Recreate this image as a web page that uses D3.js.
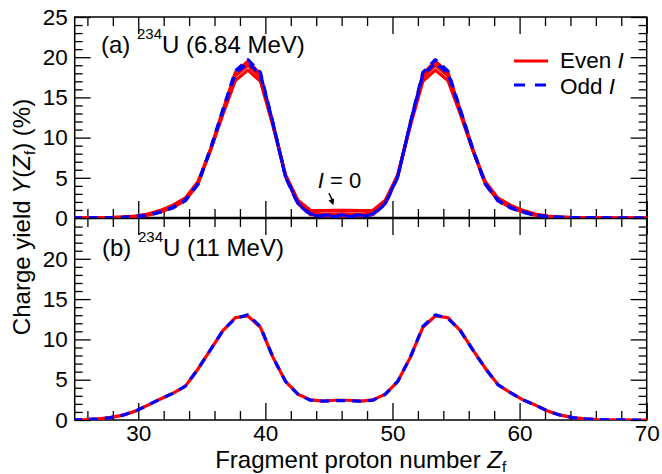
<!DOCTYPE html>
<html>
<head>
<meta charset="utf-8">
<script src="https://cdn.jsdelivr.net/npm/d3@7"></script>
<style>
  body { margin: 0; background: #fff; }
  svg text { font-family: "Liberation Sans", Arial, Helvetica, sans-serif; fill: #000; }
</style>
</head>
<body>
<svg id="chart" width="662" height="474"></svg>
<script>
// Fragment proton numbers of the calculated points
const zf = [24.86, 25.84, 26.82, 27.81, 28.79, 29.77, 30.76, 31.74, 32.72, 33.71, 34.69, 35.68,
  36.66, 37.64, 38.63, 39.61, 40.59, 41.58, 42.56, 43.54, 44.53, 45.51, 46.49, 47.47, 48.46,
  49.44, 50.42, 51.41, 52.39, 53.37, 54.36, 55.34, 56.32, 57.31, 58.29, 59.28, 60.26, 61.24,
  62.23, 63.21, 64.19, 65.18, 66.16, 67.14, 68.13, 69.11, 70.09];

// (a) 234U at 6.84 MeV, one curve per angular momentum I
const yieldA_I0 = [0, 0.01, 0.03, 0.06, 0.12, 0.24, 0.48, 0.95, 1.6, 2.5, 4.5, 8.4, 12.9, 17.1,
  18.4, 17.0, 11.5, 5.4, 2.2, 0.95, 0.92, 0.95, 0.95, 0.92, 0.95, 2.2, 5.4, 11.5, 17.0, 18.4,
  17.1, 12.9, 8.4, 4.5, 2.5, 1.6, 0.95, 0.48, 0.24, 0.12, 0.06, 0.03, 0.01, 0, 0, 0, 0];
const yieldA_I2 = [0, 0.01, 0.02, 0.05, 0.1, 0.2, 0.4, 0.82, 1.4, 2.3, 4.3, 8.5, 13.2, 17.7,
  19.0, 17.5, 11.7, 5.3, 1.95, 0.6, 0.5, 0.52, 0.52, 0.5, 0.6, 1.95, 5.3, 11.7, 17.5, 19.0,
  17.7, 13.2, 8.5, 4.3, 2.3, 1.4, 0.82, 0.4, 0.2, 0.1, 0.05, 0.02, 0.01, 0, 0, 0, 0];
const yieldA_I4 = [0, 0.01, 0.02, 0.04, 0.08, 0.15, 0.35, 0.75, 1.3, 2.2, 4.2, 8.5, 13.4, 18.1,
  19.5, 17.9, 11.8, 5.2, 1.8, 0.42, 0.25, 0.22, 0.22, 0.25, 0.42, 1.8, 5.2, 11.8, 17.9, 19.5,
  18.1, 13.4, 8.5, 4.2, 2.2, 1.3, 0.75, 0.35, 0.15, 0.08, 0.04, 0.02, 0.01, 0, 0, 0, 0];
const yieldA_I1 = [0, 0.01, 0.02, 0.04, 0.09, 0.17, 0.37, 0.78, 1.35, 2.25, 4.2, 8.5, 13.3, 18.0,
  19.3, 17.8, 11.8, 5.2, 1.85, 0.5, 0.35, 0.35, 0.35, 0.35, 0.5, 1.85, 5.2, 11.8, 17.8, 19.3,
  18.0, 13.3, 8.5, 4.2, 2.25, 1.35, 0.78, 0.37, 0.17, 0.09, 0.04, 0.02, 0.01, 0, 0, 0, 0];
const yieldA_I3 = [0, 0.01, 0.02, 0.04, 0.08, 0.15, 0.33, 0.72, 1.25, 2.15, 4.2, 8.6, 13.5, 18.3,
  19.7, 18.1, 11.9, 5.1, 1.75, 0.4, 0.22, 0.2, 0.2, 0.22, 0.4, 1.75, 5.1, 11.9, 18.1, 19.7,
  18.3, 13.5, 8.6, 4.2, 2.15, 1.25, 0.72, 0.33, 0.15, 0.08, 0.04, 0.02, 0.01, 0, 0, 0, 0];

// (b) 234U at 11 MeV
const yieldB_even = [0.02, 0.05, 0.15, 0.3, 0.6, 1.1, 1.85, 2.6, 3.3, 4.2, 6.3, 8.7, 11.1, 12.7,
  12.9, 11.5, 7.8, 4.8, 3.2, 2.5, 2.35, 2.45, 2.45, 2.35, 2.5, 3.2, 4.8, 7.8, 11.5, 12.9, 12.7,
  11.1, 8.7, 6.4, 4.4, 3.4, 2.5, 1.85, 1.1, 0.6, 0.3, 0.15, 0.05, 0.02, 0.01, 0, 0];
const yieldB_odd = [0.02, 0.05, 0.15, 0.3, 0.6, 1.1, 1.85, 2.6, 3.3, 4.2, 6.3, 8.7, 11.1, 12.6,
  13.05, 11.6, 7.8, 4.8, 3.2, 2.45, 2.35, 2.4, 2.4, 2.35, 2.45, 3.2, 4.8, 7.8, 11.6, 13.05, 12.6,
  11.1, 8.7, 6.4, 4.4, 3.4, 2.5, 1.85, 1.1, 0.6, 0.3, 0.15, 0.05, 0.02, 0.01, 0, 0];

// Tick values
const xMajor = [30, 40, 50, 60, 70];
const xMinor = [26, 28, 32, 34, 36, 38, 42, 44, 46, 48, 52, 54, 56, 58, 62, 64, 66, 68];
const yMajorA = [0, 5, 10, 15, 20, 25];
const yMajorB = [0, 5, 10, 15, 20];
const yMinor = [1, 2, 3, 4, 6, 7, 8, 9, 11, 12, 13, 14, 16, 17, 18, 19, 21, 22, 23, 24];

const RED = "#ff0000";
const BLUE = "#0000ff";
const TICK_FONT = 22.5;
const FONT = 24;

const svg = d3.select("#chart");
const pLeft = 74.7, pRight = 646.7, pTop = 17, pMid = 218, pBottom = 420;

const x = d3.scaleLinear().domain([25, 70]).range([pLeft, pRight]);
const yA = d3.scaleLinear().domain([0, 25]).range([pMid, pTop]);
const yB = d3.scaleLinear().domain([0, 25]).range([pBottom, pMid + 0.5]);

// Clip paths for the two panels
const defs = svg.append("defs");
defs.append("clipPath").attr("id", "clipA").append("rect")
  .attr("x", pLeft).attr("y", pTop).attr("width", pRight - pLeft).attr("height", pMid - pTop);
defs.append("clipPath").attr("id", "clipB").append("rect")
  .attr("x", pLeft).attr("y", pMid).attr("width", pRight - pLeft).attr("height", pBottom - pMid);

function ticks(gen, values, size, pos, labels) {
  const a = gen.tickValues(values).tickSize(size).tickPadding(labels === "x" ? 5 : 7);
  if (!labels) a.tickFormat("");
  const g = svg.append("g")
    .attr("transform", pos)
    .call(a)
    .attr("font-size", TICK_FONT)
    .attr("font-family", '"Liberation Sans", Arial, sans-serif');
  g.select(".domain").remove();
  g.selectAll("line").attr("stroke", "#000").attr("stroke-width", 1.3);
  g.selectAll("text").attr("fill", "#000");
  return g;
}

function panelTicks(y, yTop, yBottom, yMajor, xLabels) {
  ticks(d3.axisLeft(y), yMajor, -16, "translate(" + pLeft + ",0)", "y");
  ticks(d3.axisLeft(y), yMinor, -8, "translate(" + pLeft + ",0)", false);
  ticks(d3.axisRight(y), yMajor, -16, "translate(" + pRight + ",0)", false);
  ticks(d3.axisRight(y), yMinor, -8, "translate(" + pRight + ",0)", false);
  ticks(d3.axisTop(x), xMajor, -17, "translate(0," + yTop + ")", false);
  ticks(d3.axisTop(x), xMinor, -9, "translate(0," + yTop + ")", false);
  ticks(d3.axisBottom(x), xMajor, -17, "translate(0," + yBottom + ")", xLabels ? "x" : false);
  ticks(d3.axisBottom(x), xMinor, -9, "translate(0," + yBottom + ")", false);
}

panelTicks(yA, pTop, pMid, yMajorA, false);
panelTicks(yB, pMid, pBottom, yMajorB, true);

// Frame
svg.append("rect")
  .attr("x", pLeft).attr("y", pTop)
  .attr("width", pRight - pLeft).attr("height", pBottom - pTop)
  .attr("fill", "none").attr("stroke", "#000").attr("stroke-width", 1.5);
svg.append("line")
  .attr("x1", pLeft).attr("x2", pRight).attr("y1", pMid).attr("y2", pMid)
  .attr("stroke", "#000").attr("stroke-width", 2.5);

// Curves
function curve(clip, y, values, color, dashed) {
  const line = d3.line().x(d => x(d[0])).y(d => y(d[1]));
  svg.append("path")
    .datum(d3.zip(zf, values))
    .attr("clip-path", "url(#" + clip + ")")
    .attr("d", line)
    .attr("fill", "none")
    .attr("stroke", color)
    .attr("stroke-width", 3.2)
    .attr("stroke-linejoin", "round")
    .attr("stroke-dasharray", dashed ? "9,7" : null);
}

[yieldA_I0, yieldA_I2, yieldA_I4].forEach(s => curve("clipA", yA, s, RED, false));
[yieldA_I1, yieldA_I3].forEach(s => curve("clipA", yA, s, BLUE, true));
curve("clipB", yB, yieldB_even, RED, false);
curve("clipB", yB, yieldB_odd, BLUE, true);

// Panel labels
function panelLabel(px, py, letter, energy) {
  const t = svg.append("text").attr("x", px).attr("y", py).attr("font-size", FONT);
  t.append("tspan").text("(" + letter + ") ");
  t.append("tspan").attr("font-size", 15).attr("dy", -14).text("234");
  t.append("tspan").attr("dy", 14).text("U (" + energy + ")");
}
panelLabel(101, 53, "a", "6.84 MeV");
panelLabel(102, 256, "b", "11 MeV");

// Legend
const legend = [
  { label: "Even ", color: RED, dashed: false, y: 61, ty: 68 },
  { label: "Odd ", color: BLUE, dashed: true, y: 85, ty: 94 }
];
legend.forEach(d => {
  svg.append("line")
    .attr("x1", 514).attr("x2", 548).attr("y1", d.y).attr("y2", d.y)
    .attr("stroke", d.color).attr("stroke-width", 3.2)
    .attr("stroke-dasharray", d.dashed ? "11,10" : null);
  const t = svg.append("text").attr("x", 560).attr("y", d.ty).attr("font-size", 22.5);
  t.append("tspan").text(d.label);
  t.append("tspan").attr("font-style", "italic").text("I");
});

// I = 0 annotation with arrow
const note = svg.append("text")
  .attr("x", x(44.12)).attr("y", yA(3.73)).attr("font-size", 22);
note.append("tspan").attr("font-style", "italic").text("I");
note.append("tspan").text(" = 0");

const ax0 = x(45.0), ay0 = yA(3.1), ax1 = x(45.35), ay1 = yA(1.6);
svg.append("line")
  .attr("x1", ax0).attr("y1", ay0).attr("x2", ax1).attr("y2", ay1 - 3)
  .attr("stroke", "#000").attr("stroke-width", 1.5);
const ang = Math.atan2(ay1 - ay0, ax1 - ax0);
const hl = 6, hw = 3;
svg.append("path")
  .attr("d", `M${ax1},${ay1}
    L${ax1 - hl * Math.cos(ang) + hw * Math.sin(ang)},${ay1 - hl * Math.sin(ang) - hw * Math.cos(ang)}
    L${ax1 - hl * Math.cos(ang) - hw * Math.sin(ang)},${ay1 - hl * Math.sin(ang) + hw * Math.cos(ang)}Z`)
  .attr("fill", "#000");

// Axis titles
const xt = svg.append("text")
  .attr("x", (pLeft + pRight) / 2).attr("y", 468)
  .attr("text-anchor", "middle").attr("font-size", FONT);
xt.append("tspan").text("Fragment proton number ");
xt.append("tspan").attr("font-style", "italic").text("Z");
xt.append("tspan").attr("font-size", 15).attr("dy", 4).text("f");

const yt = svg.append("text")
  .attr("transform", "translate(30,217) rotate(-90)")
  .attr("text-anchor", "middle").attr("font-size", FONT);
yt.append("tspan").text("Charge yield ");
yt.append("tspan").attr("font-style", "italic").text("Y");
yt.append("tspan").text("(");
yt.append("tspan").attr("font-style", "italic").text("Z");
yt.append("tspan").attr("font-size", 15).attr("dy", 5).text("f");
yt.append("tspan").attr("dy", -5).text(") (%)");
</script>
</body>
</html>
